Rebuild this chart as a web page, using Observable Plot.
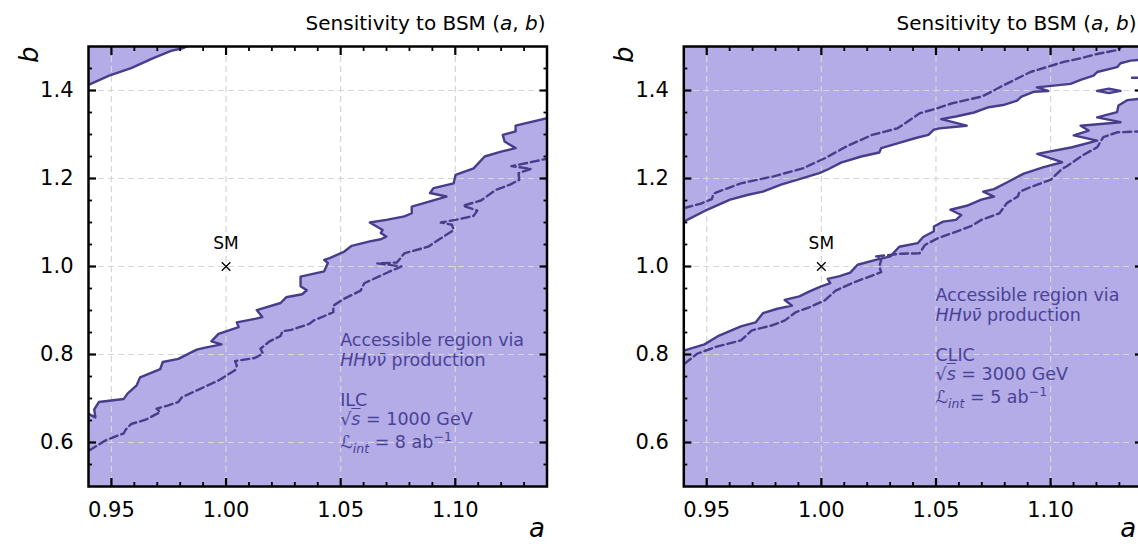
<!DOCTYPE html>
<html><head><meta charset="utf-8">
<script src="https://cdn.jsdelivr.net/npm/d3@7"></script>
<script src="https://cdn.jsdelivr.net/npm/@observablehq/plot@0.6"></script>
<style>
html,body{margin:0;padding:0;background:#fff;}
#fig{position:relative;width:1138px;height:548px;overflow:hidden;font-family:"DejaVu Sans",sans-serif;}
.panel{position:absolute;top:0;}
.panel svg{max-width:none !important;}
.title{position:absolute;font-size:20px;line-height:20px;white-space:nowrap;color:#000;transform:translateX(-100%);}
.note{position:absolute;font-size:17.5px;line-height:20px;white-space:nowrap;color:#4a4296;}
.sub{font-size:12.5px;position:relative;top:5px;}
.sup{font-size:12.5px;position:relative;top:-7px;}
.ov{text-decoration:overline;}
</style></head><body><div id="fig"></div><script>
// ---- axes / ticks ----
const X_DOMAIN = [0.94, 1.14];
const Y_DOMAIN = [0.5, 1.5];
const xMajor = [0.95, 1.00, 1.05, 1.10];
const yMajor = [0.6, 0.8, 1.0, 1.2, 1.4];
const xMinor = [0.96,0.97,0.98,0.99,1.01,1.02,1.03,1.04,1.06,1.07,1.08,1.09,1.11,1.12,1.13];
const yMinor = [0.55,0.65,0.7,0.75,0.85,0.9,0.95,1.05,1.1,1.15,1.25,1.3,1.35,1.45];
const smPoint = [1.0, 1.0];

// ---- ILC sqrt(s)=1000 GeV panel ----
const ilcUpperEdge = [[0.94,1.413],[0.949,1.434],[0.9586,1.451],[0.968,1.473],[0.976,1.49],[0.981,1.496],[0.983,1.5]];
const ilcLowerEdge = [[0.94,0.665],[0.943,0.657],[0.9425,0.675],[0.9445,0.692],[0.9554,0.699],[0.957,0.711],[0.961,0.73],[0.9625,0.748],[0.9713,0.767],[0.9724,0.783],[0.9792,0.79],[0.9872,0.811],[0.9904,0.815],[0.998,0.823],[0.9936,0.83],[0.9967,0.847],[1.0055,0.862],[1.0047,0.873],[1.0126,0.881],[1.0158,0.885],[1.0134,0.901],[1.0238,0.917],[1.0262,0.93],[1.0332,0.937],[1.0352,0.946],[1.0325,0.955],[1.0325,0.977],[1.0428,0.989],[1.0444,1.008],[1.0428,1.015],[1.0452,1.019],[1.0516,1.034],[1.0548,1.047],[1.0627,1.057],[1.0675,1.062],[1.0699,1.068],[1.0675,1.076],[1.0683,1.083],[1.0627,1.1],[1.0699,1.106],[1.0778,1.114],[1.081,1.121],[1.081,1.136],[1.0961,1.159],[1.089,1.167],[1.0905,1.178],[1.0993,1.189],[1.1001,1.208],[1.108,1.223],[1.1128,1.25],[1.12,1.261],[1.1263,1.269],[1.1215,1.284],[1.1207,1.299],[1.1263,1.307],[1.1263,1.32],[1.14,1.337]];
const ilcLowerDashed = [[0.9403,0.582],[0.9475,0.605],[0.9554,0.621],[0.9562,0.629],[0.9586,0.642],[0.965,0.652],[0.9713,0.669],[0.9697,0.677],[0.9745,0.684],[0.9792,0.692],[0.9808,0.703],[0.9904,0.726],[0.9967,0.741],[1.0039,0.764],[1.0047,0.775],[1.0039,0.785],[1.0126,0.792],[1.0161,0.802],[1.015,0.813],[1.019,0.83],[1.0238,0.842],[1.0246,0.853],[1.0285,0.856],[1.0365,0.87],[1.0381,0.877],[1.0468,0.896],[1.0468,0.911],[1.0516,0.927],[1.0587,0.945],[1.0603,0.962],[1.0707,0.987],[1.0765,1.0],[1.066,1.007],[1.0745,1.009],[1.0778,1.03],[1.0882,1.045],[1.0937,1.064],[1.0993,1.083],[1.0985,1.095],[1.0937,1.1],[1.1001,1.106],[1.108,1.115],[1.1096,1.127],[1.1033,1.138],[1.1112,1.15],[1.1176,1.174],[1.1239,1.186],[1.1279,1.197],[1.1276,1.212],[1.133,1.222],[1.1245,1.228],[1.132,1.236],[1.14,1.245]];

// ---- CLIC sqrt(s)=3000 GeV panel ----
const clicUpperEdge = [[0.94,1.102],[0.9506,1.13],[0.9602,1.152],[0.9681,1.163],[0.9745,1.17],[0.9824,1.186],[0.9919,1.201],[0.9991,1.212],[1.003,1.221],[1.0086,1.236],[1.0174,1.25],[1.0253,1.259],[1.0261,1.269],[1.0332,1.28],[1.0412,1.292],[1.0467,1.299],[1.0491,1.311],[1.0515,1.314],[1.0634,1.32],[1.0523,1.335],[1.0587,1.341],[1.0666,1.35],[1.073,1.362],[1.0793,1.367],[1.0854,1.377],[1.0873,1.386],[1.0926,1.397],[1.099,1.399],[1.094,1.407],[1.1087,1.415],[1.1131,1.424],[1.1187,1.434],[1.1203,1.442],[1.129,1.453],[1.1305,1.462],[1.1349,1.468],[1.14,1.47]];
const clicUpperDashed = [[0.9403,1.133],[0.9475,1.143],[0.9522,1.153],[0.953,1.166],[0.9649,1.189],[0.9792,1.205],[0.9919,1.223],[1.0015,1.246],[1.011,1.273],[1.0221,1.299],[1.0332,1.314],[1.0428,1.348],[1.0507,1.36],[1.0571,1.371],[1.0698,1.386],[1.0745,1.398],[1.078,1.408],[1.0838,1.423],[1.0912,1.442],[1.1057,1.465],[1.113,1.473],[1.1203,1.483],[1.129,1.492],[1.131,1.5]];
const clicLowerEdge = [[0.94,0.809],[0.949,0.823],[0.9554,0.843],[0.9649,0.864],[0.9713,0.873],[0.9745,0.894],[0.9808,0.904],[0.9872,0.911],[0.984,0.924],[0.9904,0.932],[0.9951,0.944],[0.9999,0.955],[1.0039,0.962],[1.0028,0.972],[1.008,0.978],[1.0126,0.986],[1.0158,1.004],[1.0237,1.015],[1.0301,1.023],[1.034,1.045],[1.042,1.053],[1.0444,1.067],[1.0491,1.08],[1.0491,1.091],[1.0531,1.102],[1.0587,1.106],[1.061,1.117],[1.0563,1.129],[1.0634,1.138],[1.0698,1.152],[1.0753,1.159],[1.0706,1.17],[1.0753,1.176],[1.0809,1.191],[1.0883,1.211],[1.097,1.226],[1.105,1.237],[1.0942,1.256],[1.1094,1.271],[1.1203,1.286],[1.1101,1.298],[1.1166,1.309],[1.1131,1.32],[1.1305,1.328],[1.1203,1.339],[1.129,1.351],[1.1296,1.366],[1.1334,1.378],[1.14,1.382]];
const clicLowerDashed = [[0.9403,0.779],[0.9459,0.802],[0.9538,0.817],[0.9649,0.832],[0.9697,0.855],[0.9784,0.866],[0.984,0.877],[0.9888,0.896],[0.9951,0.908],[1.0015,0.923],[1.0062,0.945],[1.0142,0.964],[1.0261,0.987],[1.0253,1.0],[1.0261,1.015],[1.0237,1.023],[1.0348,1.029],[1.0428,1.03],[1.0452,1.049],[1.0507,1.064],[1.0571,1.076],[1.065,1.091],[1.0698,1.106],[1.0777,1.121],[1.0809,1.144],[1.0857,1.159],[1.0865,1.17],[1.092,1.182],[1.1,1.197],[1.105,1.222],[1.1071,1.228],[1.1138,1.252],[1.1203,1.271],[1.123,1.294],[1.129,1.305],[1.14,1.307]];
const clicIsland = [[1.1203,1.399],[1.1254,1.404],[1.1305,1.399],[1.1254,1.394],[1.1203,1.399]];
const clicEdgeStub = [[1.1355,1.429],[1.14,1.429]];

// ---- annotation text ----
const ilcNote = {a: 1.05, b: 0.832, lines: [
  "Accessible region via",
  "<i>HHνν\u0304</i> production",
  "ILC",
  "√<span class='ov'><i>s</i></span> = 1000 GeV",
  "<i>ℒ</i><span class='sub'><i>int</i></span> = 8 ab<span class='sup'>−1</span>"]};
const clicNote = {a: 1.05, b: 0.934, lines: [
  "Accessible region via",
  "<i>HHνν\u0304</i> production",
  "CLIC",
  "√<span class='ov'><i>s</i></span> = 3000 GeV",
  "<i>ℒ</i><span class='sub'><i>int</i></span> = 5 ab<span class='sup'>−1</span>"]};
const noteLineOffsets = [0, 19.5, 59.5, 79, 102];
const titleHTML = "Sensitivity to BSM (<i>a</i>, <i>b</i>)";

const FILL = "#b3ace6", LINE = "#483d8b", GRID = "#d6d6d6";

function below(pts){ return [...pts, [X_DOMAIN[1], Y_DOMAIN[0]], [X_DOMAIN[0], Y_DOMAIN[0]]]; }
function above(pts){ return [...pts, [X_DOMAIN[1], Y_DOMAIN[1]], [X_DOMAIN[0], Y_DOMAIN[1]]]; }

function makePanel(p) {
  const xy = {x: d => d[0], y: d => d[1]};
  const marks = [];
  for (const poly of p.fills) marks.push(Plot.line(poly, {...xy, fill: FILL, stroke: "none", clip: true}));
  marks.push(Plot.gridX(xMajor, {stroke: GRID, strokeOpacity: 1, strokeWidth: 1.2, strokeDasharray: "6,4"}));
  marks.push(Plot.gridY(yMajor, {stroke: GRID, strokeOpacity: 1, strokeWidth: 1.2, strokeDasharray: "6,4"}));
  for (const s of p.solids) marks.push(Plot.line(s, {...xy, stroke: LINE, strokeWidth: 2.4, clip: true}));
  for (const s of p.dashes) marks.push(Plot.line(s, {...xy, stroke: LINE, strokeWidth: 2.4, strokeDasharray: "8,4", clip: true}));
  marks.push(Plot.dot([smPoint], {...xy, symbol: "times", r: 4, stroke: "black", strokeWidth: 1.3}));
  marks.push(Plot.text([smPoint], {...xy, text: () => "SM", dy: -23, fontSize: 17, fill: "black"}));
  marks.push(Plot.frame({stroke: "black", strokeWidth: 2.5}));
  const blank = () => "";
  marks.push(Plot.axisX(xMajor, {anchor: "bottom", tickSize: -8, tickPadding: 24, tickFormat: d3.format(".2f"), label: null, strokeWidth: 2.2, fontSize: 21}));
  marks.push(Plot.axisX(xMajor, {anchor: "top", tickSize: -8, tickFormat: blank, label: null, strokeWidth: 2.2}));
  marks.push(Plot.axisX(xMinor, {anchor: "bottom", tickSize: -4, tickFormat: blank, label: null, strokeWidth: 1.8}));
  marks.push(Plot.axisX(xMinor, {anchor: "top", tickSize: -4, tickFormat: blank, label: null, strokeWidth: 1.8}));
  marks.push(Plot.axisY(yMajor, {anchor: "left", tickSize: -8, tickPadding: 23, tickFormat: d3.format(".1f"), label: null, strokeWidth: 2.2, fontSize: 21}));
  marks.push(Plot.axisY(yMajor, {anchor: "right", tickSize: -8, tickFormat: blank, label: null, strokeWidth: 2.2}));
  marks.push(Plot.axisY(yMinor, {anchor: "left", tickSize: -4, tickFormat: blank, label: null, strokeWidth: 1.8}));
  marks.push(Plot.axisY(yMinor, {anchor: "right", tickSize: -4, tickFormat: blank, label: null, strokeWidth: 1.8}));
  marks.push(Plot.text(["a"], {text: d => d, frameAnchor: "bottom-right", textAnchor: "end", dy: 50, dx: p.aDx, fontSize: 26, fontStyle: "italic", fill: "black"}));
  marks.push(Plot.text(["b"], {text: d => d, frameAnchor: "top-left", textAnchor: "end", rotate: -90, dx: -69, dy: 0, fontSize: 26, fontStyle: "italic", fill: "black"}));
  return Plot.plot({
    width: p.width, height: 548,
    marginLeft: p.marginLeft, marginRight: p.marginRight, marginTop: 46, marginBottom: 62,
    x: {domain: X_DOMAIN}, y: {domain: Y_DOMAIN},
    style: {fontFamily: "DejaVu Sans", fontSize: "20px", background: "transparent", overflow: "visible", color: "black", maxWidth: "none"},
    marks
  });
}

const fig = document.getElementById("fig");
const panels = [
  {left: 0, width: 569, marginLeft: 88, marginRight: 22.5, titleRight: 545.5, aDx: -2,
   fills: [above(ilcUpperEdge), below(ilcLowerEdge)],
   solids: [ilcUpperEdge, ilcLowerEdge], dashes: [ilcLowerDashed], note: ilcNote},
  {left: 569, width: 600, marginLeft: 114.3, marginRight: 27.2, titleRight: 1136.5, aDx: -6,
   fills: [above(clicUpperEdge), below(clicLowerEdge), clicIsland],
   solids: [clicUpperEdge, clicLowerEdge, clicIsland, clicEdgeStub], dashes: [clicUpperDashed, clicLowerDashed], note: clicNote}
];
for (const p of panels) {
  const chart = makePanel(p);
  const wrap = document.createElement("div");
  wrap.className = "panel";
  wrap.style.left = p.left + "px";
  wrap.style.width = p.width + "px";
  wrap.appendChild(chart);
  fig.appendChild(wrap);
  const sx = chart.scale("x"), sy = chart.scale("y");
  const t = document.createElement("div");
  t.className = "title";
  t.innerHTML = titleHTML;
  t.style.left = Math.min(p.left + sx.apply(X_DOMAIN[1]) - 1, p.titleRight) + "px";
  t.style.top = "13px";
  fig.appendChild(t);
  const x0 = p.left + sx.apply(p.note.a);
  const y0 = sy.apply(p.note.b);
  p.note.lines.forEach((html, i) => {
    const d = document.createElement("div");
    d.className = "note";
    d.innerHTML = html;
    d.style.left = x0 + "px";
    d.style.top = (y0 + noteLineOffsets[i] - 9.7) + "px";
    fig.appendChild(d);
  });
}
</script></body></html>
